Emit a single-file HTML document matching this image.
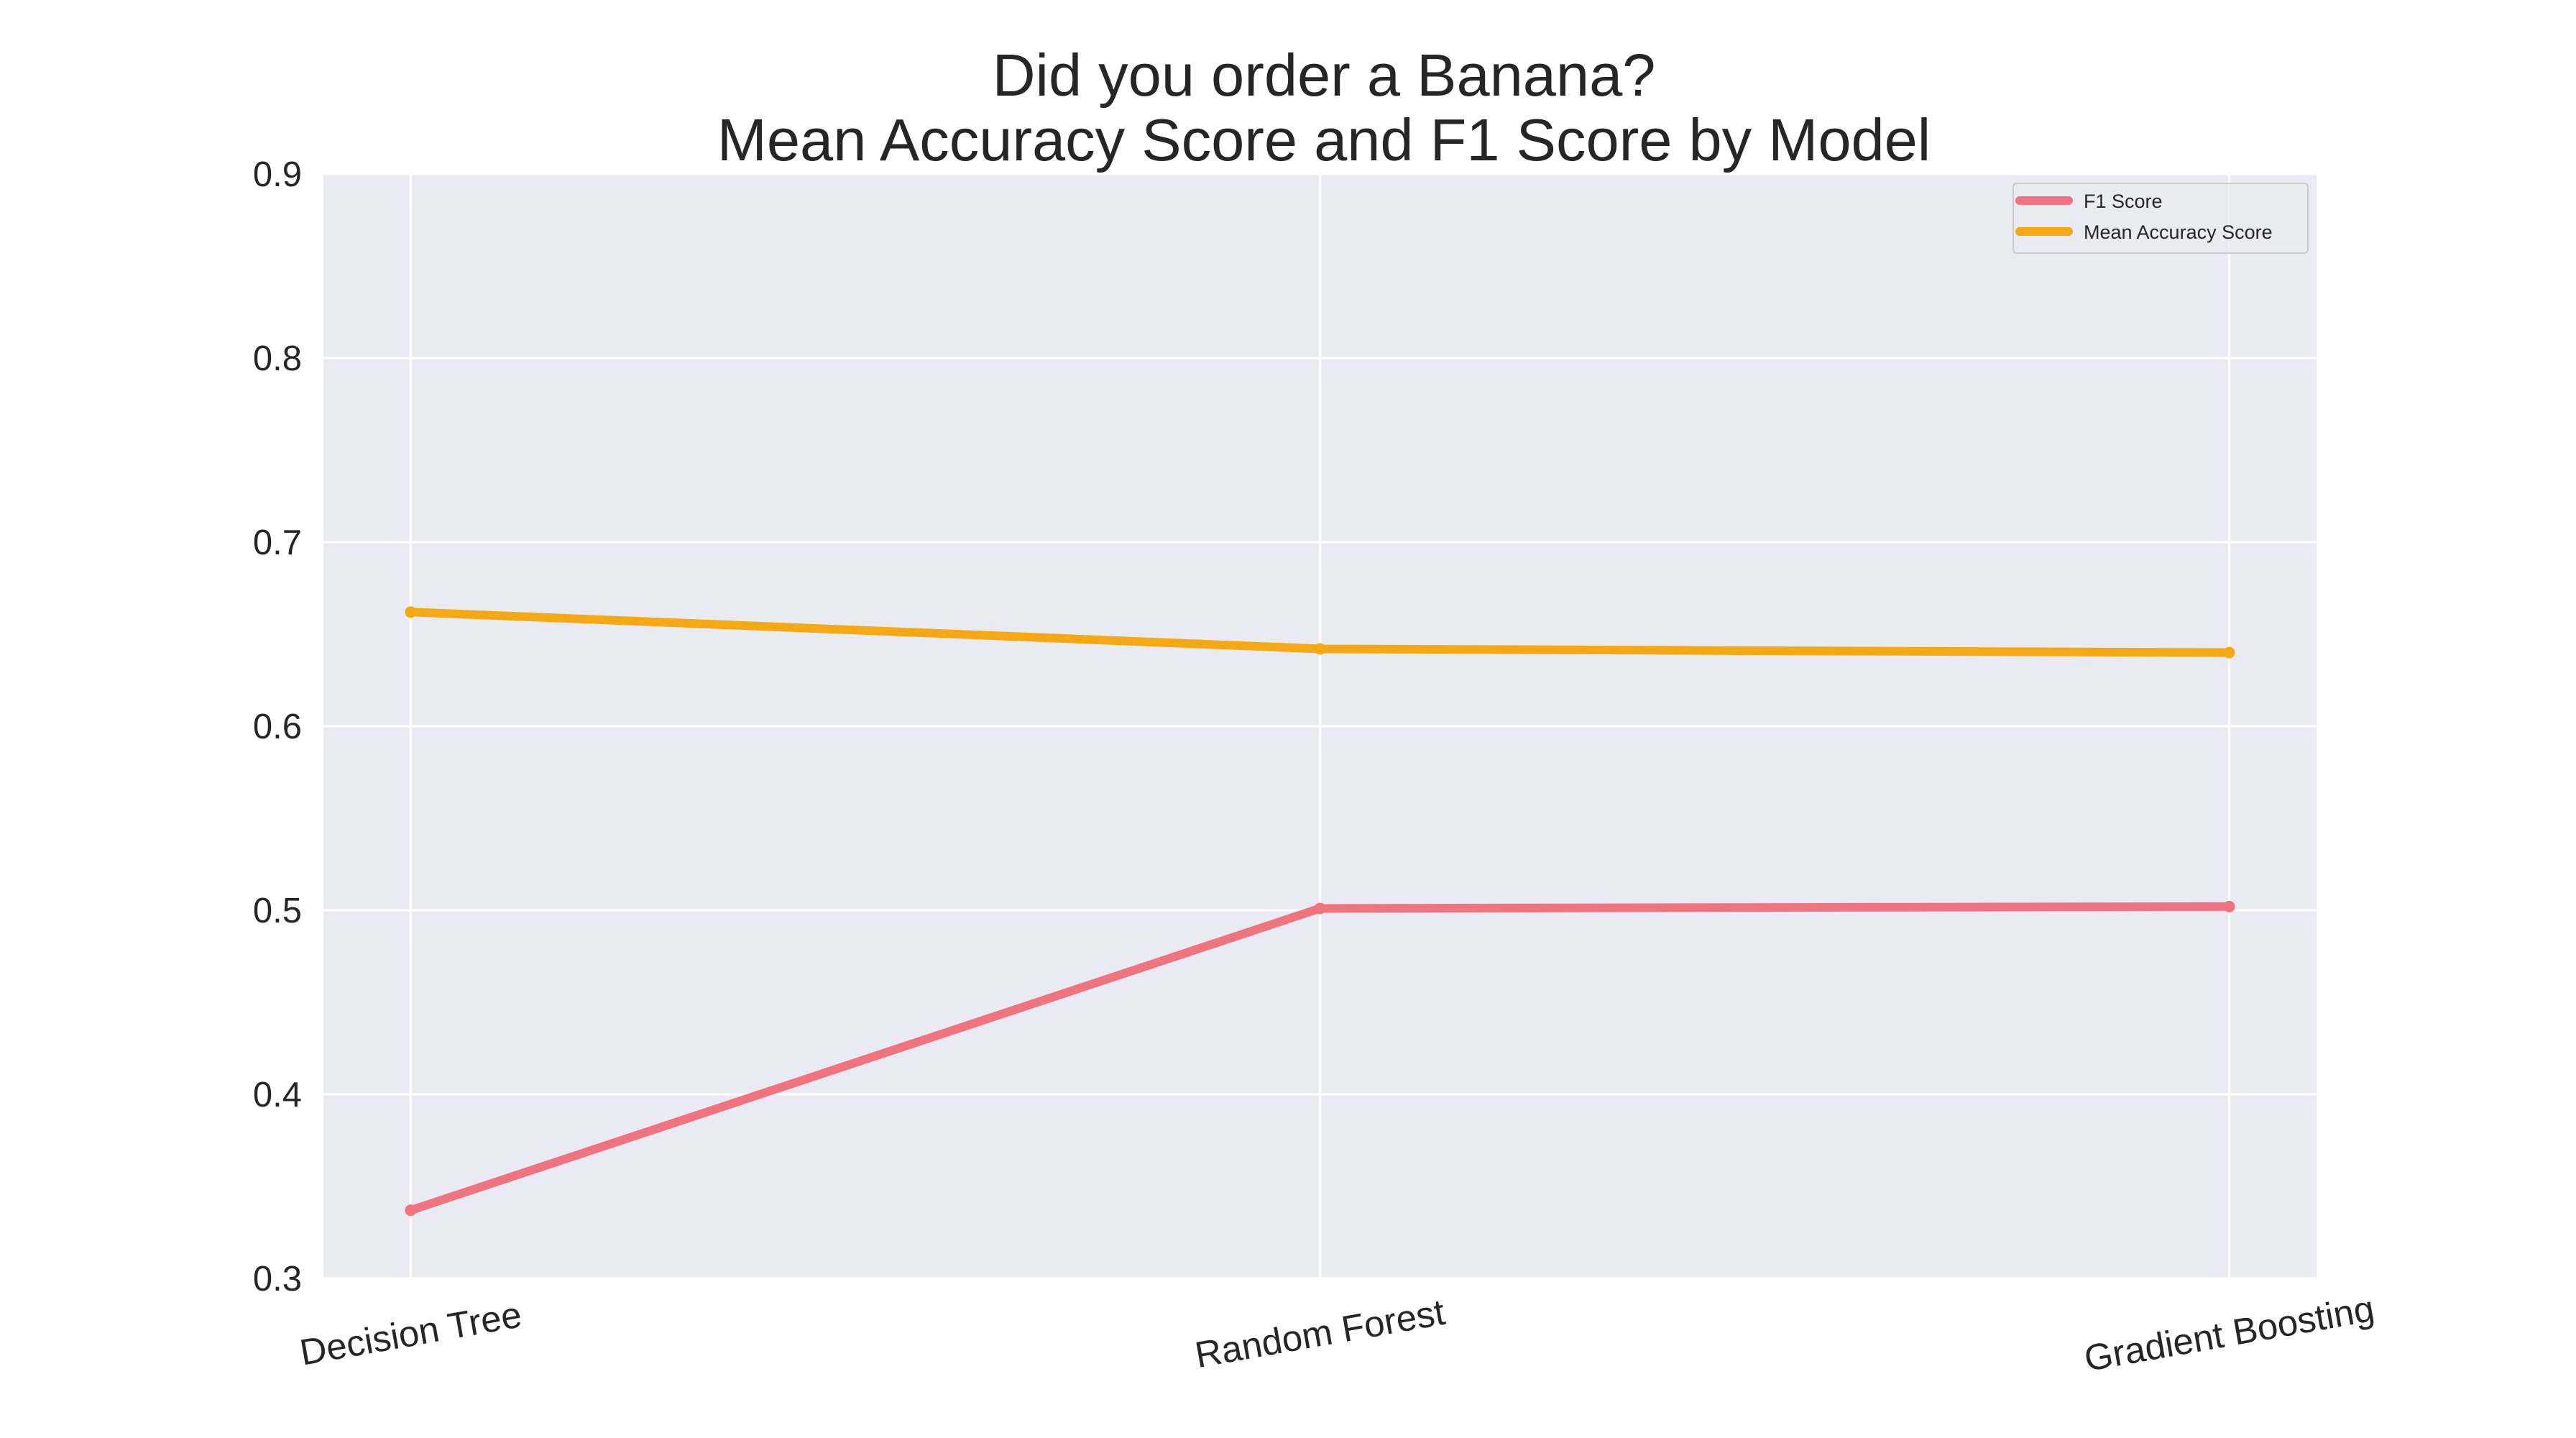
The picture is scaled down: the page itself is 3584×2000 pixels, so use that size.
<!DOCTYPE html>
<html><head><meta charset="utf-8"><style>
html,body{margin:0;padding:0;background:#fff;}
svg{display:block;font-family:"Liberation Sans",Arial,sans-serif;}
</style></head><body>
<svg id="chart" width="3584" height="2000" viewBox="0 0 3584 2000">
<rect x="0" y="0" width="3584" height="2000" fill="#ffffff"/>
<text x="1842" y="133" font-size="83" fill="#262626" text-anchor="middle">Did you order a Banana?</text>
<text x="1842" y="223" font-size="83" fill="#262626" text-anchor="middle">Mean Accuracy Score and F1 Score by Model</text>
<rect x="450" y="242" width="2773" height="1536" fill="#eaeaf2"/>
<g id="grid"></g>
<g id="yticks"></g>
<g id="xticks"></g>
<g id="series"></g>
<g>
<rect x="2801" y="255" width="410" height="97" rx="5" fill="#eaeaf2" fill-opacity="0.8" stroke="#cccccc" stroke-width="2"/>
<line x1="2810" y1="279" x2="2878" y2="279" stroke="#f07480" stroke-width="12" stroke-linecap="round"/>
<text x="2899" y="289" font-size="27" fill="#262626">F1 Score</text>
<line x1="2810" y1="322" x2="2878" y2="322" stroke="#f5a814" stroke-width="12" stroke-linecap="round"/>
<text x="2899" y="332" font-size="27" fill="#262626">Mean Accuracy Score</text>
</g>
</svg>
<script>
const categories = ["Decision Tree", "Random Forest", "Gradient Boosting"];
const f1Scores = [0.337, 0.501, 0.502];
const accuracyScores = [0.662, 0.642, 0.640];
const yTicks = [0.3, 0.4, 0.5, 0.6, 0.7, 0.8, 0.9];

const NS = "http://www.w3.org/2000/svg";
const L = 450, R = 3223, T = 242, B = 1778;
const xMin = -0.096, xMax = 2.096, yMin = 0.3, yMax = 0.9;
function xs(i){ return L + (i - xMin) / (xMax - xMin) * (R - L); }
function ys(v){ return B - (v - yMin) / (yMax - yMin) * (B - T); }
function mk(tag, attrs, parent){
  const e = document.createElementNS(NS, tag);
  for (const k in attrs) e.setAttribute(k, attrs[k]);
  parent.appendChild(e);
  return e;
}
const grid = document.getElementById('grid');
const yt = document.getElementById('yticks');
const xt = document.getElementById('xticks');
const ser = document.getElementById('series');

yTicks.forEach(v => {
  const g = mk('line', {x1:L, x2:R, y1:ys(v), y2:ys(v), stroke:'#ffffff', 'stroke-width':3}, grid);
  
  
  const t = mk('text', {x:420, y:ys(v)+17, 'font-size':49, fill:'#262626', 'text-anchor':'end'}, yt);
  t.textContent = v.toFixed(1);
  
  
});
categories.forEach((c, i) => {
  const g = mk('line', {x1:xs(i), x2:xs(i), y1:T, y2:B, stroke:'#ffffff', 'stroke-width':3}, grid);
  
  
  const x = xs(i), y = 1872;
  const t = mk('text', {x:x, y:y, 'font-size':51, fill:'#262626', 'text-anchor':'middle', transform:'rotate(-10 '+x+' '+(y-17)+')'}, xt);
  t.textContent = c;
  
  
});
function drawSeries(vals, color, name){
  const pts = vals.map((v, i) => xs(i) + ',' + ys(v)).join(' ');
  const p = mk('polyline', {points:pts, fill:'none', stroke:color, 'stroke-width':12, 'stroke-linejoin':'round'}, ser);
  
  
  vals.forEach((v, i) => {
    const m = mk('circle', {cx:xs(i), cy:ys(v), r:8, fill:color}, ser);
    
    
  });
}
drawSeries(f1Scores, '#f07480', 'f1-score');
drawSeries(accuracyScores, '#f5a814', 'mean-accuracy');
</script>
</body></html>
